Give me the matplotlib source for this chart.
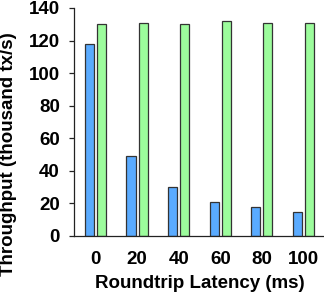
import matplotlib
matplotlib.use("Agg")
import matplotlib.pyplot as plt
import numpy as np

latency = ["0", "20", "40", "60", "80", "100"]
series_a = [118, 49, 30, 21, 18, 15]
series_b = [130, 131, 130, 132, 131, 131]
yticks = [0, 20, 40, 60, 80, 100, 120, 140]

plt.rcParams['font.family'] = ['Liberation Sans', 'DejaVu Sans']
plt.rcParams['font.weight'] = 'bold'

fs = 13.5
fig = plt.figure(figsize=(3.24, 2.94), dpi=100)
ax = fig.add_axes([74/324, 1-236/294, 249/324, 228/294])

x = np.arange(len(latency))
w = 0.22
ax.bar(x - 0.145, series_a, w, color='#5aabff', edgecolor='#333333', linewidth=0.9)
ax.bar(x + 0.145, series_b, w, color='#9cfc9c', edgecolor='#333333', linewidth=0.9)

ax.set_xlim(-0.517, 5.47)
ax.set_ylim(0, 140)
ax.set_yticks(yticks)
ax.set_xticks(x)
ax.set_xticklabels(latency)
for s in ['top', 'right']:
    ax.spines[s].set_visible(False)
for s in ['left', 'bottom']:
    ax.spines[s].set_linewidth(0.9)
    ax.spines[s].set_color('#222222')
ax.tick_params(axis='x', length=0, pad=10.5, labelsize=fs)
ax.tick_params(axis='y', length=3.6, width=0.9, pad=6.5, labelsize=fs, color='#222222')
for lbl in ax.get_xticklabels() + ax.get_yticklabels():
    lbl.set_fontweight('bold')

ax.set_xlabel("Roundtrip Latency (ms)", fontsize=fs, fontweight='bold')
ax.set_ylabel("Throughput (thousand tx/s)", fontsize=fs, fontweight='bold')
ax.xaxis.set_label_coords(0.504, -0.17)
ax.yaxis.set_label_coords(-0.228, 0.36)

fig.savefig("out.png", dpi=100)
